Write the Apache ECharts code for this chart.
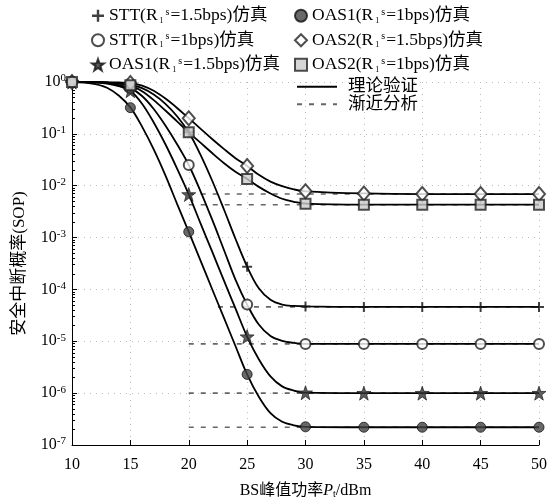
<!DOCTYPE html>
<html>
<head>
<meta charset="utf-8">
<script src="https://cdn.jsdelivr.net/npm/echarts@6/dist/echarts.min.js"></script>
<style>
html,body{margin:0;padding:0;background:#fff;}
#chart{width:550px;height:504px;}
</style>
</head>
<body>
<div id="chart"></div>
<script>
// ---- data ----
const xSim = [10, 15, 20, 25, 30, 35, 40, 45, 50];
const simSTT15 = [1, 0.89, 0.107, 2.75e-4, 4.7e-5, 4.6e-5, 4.6e-5, 4.6e-5, 4.6e-5];
const simSTT1 = [1, 0.76, 0.025, 5.1e-5, 8.9e-6, 8.9e-6, 8.9e-6, 8.9e-6, 8.9e-6];
const simOAS115 = [1, 0.68, 6.8e-3, 1.23e-5, 1.02e-6, 1.0e-6, 1.0e-6, 1.0e-6, 1.0e-6];
const simOAS11 = [1, 0.32, 1.29e-3, 2.3e-6, 2.24e-7, 2.2e-7, 2.2e-7, 2.2e-7, 2.2e-7];
const simOAS215 = [1, 0.955, 0.2, 0.024, 7.8e-3, 7.1e-3, 6.9e-3, 6.9e-3, 6.9e-3];
const simOAS21 = [1, 0.87, 0.107, 0.0135, 4.5e-3, 4.3e-3, 4.3e-3, 4.3e-3, 4.3e-3];

const xTheory = [10,11,12,13,14,15,16,17,18,19,20,21,22,23,24,25,26,27,28,29,30,35,40,45,50];
const thSTT15 = [1,1,1,0.977,0.944,0.89,0.76,0.575,0.38,0.219,0.107,0.0398,0.0126,3.55e-3,9.5e-4,2.75e-4,1.05e-4,6.3e-5,5.1e-5,4.8e-5,4.7e-5,4.6e-5,4.6e-5,4.6e-5,4.6e-5];
const thSTT1 = [1,1,0.99,0.955,0.87,0.76,0.537,0.302,0.145,0.063,0.0251,7.9e-3,2.24e-3,5.9e-4,1.55e-4,5.1e-5,2.1e-5,1.26e-5,1.02e-5,9.3e-6,8.9e-6,8.9e-6,8.9e-6,8.9e-6,8.9e-6];
const thOAS115 = [1,0.995,0.977,0.933,0.832,0.676,0.38,0.166,0.063,0.0214,6.8e-3,1.9e-3,5.4e-4,1.51e-4,4.3e-5,1.23e-5,4.5e-6,2.1e-6,1.35e-6,1.12e-6,1.02e-6,1.0e-6,1.0e-6,1.0e-6,1.0e-6];
const thOAS11 = [1,0.977,0.912,0.776,0.55,0.324,0.138,0.0501,0.0158,4.47e-3,1.29e-3,3.63e-4,1.02e-4,2.88e-5,8.1e-6,2.29e-6,8.5e-7,4.1e-7,2.8e-7,2.4e-7,2.24e-7,2.2e-7,2.2e-7,2.2e-7,2.2e-7];
const thOAS215 = [1,1,1,0.99,0.977,0.955,0.851,0.676,0.479,0.316,0.2,0.126,0.0794,0.0513,0.0339,0.024,0.0162,0.012,9.8e-3,8.5e-3,7.8e-3,7.1e-3,6.9e-3,6.9e-3,6.9e-3];
const thOAS21 = [1,1,0.995,0.977,0.933,0.871,0.661,0.447,0.282,0.174,0.107,0.0676,0.0427,0.0275,0.0186,0.0135,9.5e-3,7.1e-3,5.6e-3,4.9e-3,4.5e-3,4.3e-3,4.3e-3,4.3e-3,4.3e-3];

const asymStart = [22.5, 20, 20, 20, 20, 20];
const asymEnd = [50, 50, 50, 50, 50, 50];
const asymLevel = [4.6e-5, 8.9e-6, 1.0e-6, 2.2e-7, 6.9e-3, 4.3e-3];

const simNames = ['STT(R1s=1.5bps)仿真', 'STT(R1s=1bps)仿真', 'OAS1(R1s=1.5bps)仿真',
                  'OAS1(R1s=1bps)仿真', 'OAS2(R1s=1.5bps)仿真', 'OAS2(R1s=1bps)仿真'];
const theoryName = '理论验证';
const asymName = '渐近分析';
const yMinor = [];
for (let e = -7; e < 0; e++) for (let m = 2; m <= 9; m++) yMinor.push(m * Math.pow(10, e));

// ---- styles ----
const SERIF = '"Liberation Serif","Times New Roman","Noto Sans CJK SC",serif';
const plusPath = 'path://M4,0H6V4H10V6H6V10H4V6H0V4H4Z';
const starPath = 'path://M10,0L12.35,6.76L19.51,6.91L13.8,11.24L15.88,18.09L10,14L4.12,18.09L6.2,11.24L0.49,6.91L7.65,6.76Z';
const markerStyles = [
  {symbol: plusPath, symbolSize: 10, itemStyle: {color: '#111', borderWidth: 0}},
  {symbol: 'circle', symbolSize: 10, itemStyle: {color: '#fff', borderColor: '#222', borderWidth: 2}},
  {symbol: starPath, symbolSize: 14, itemStyle: {color: '#333', borderColor: '#111', borderWidth: 0.8}},
  {symbol: 'circle', symbolSize: 10, itemStyle: {color: '#444', borderColor: '#111', borderWidth: 1}},
  {symbol: 'diamond', symbolSize: [12, 14], itemStyle: {color: '#fff', borderColor: '#222', borderWidth: 2}},
  {symbol: 'rect', symbolSize: 10, itemStyle: {color: '#ccc', borderColor: '#222', borderWidth: 2}}
];
const simData = [simSTT15, simSTT1, simOAS115, simOAS11, simOAS215, simOAS21];
const thData = [thSTT15, thSTT1, thOAS115, thOAS11, thOAS215, thOAS21];

const series = [];
for (let i = 0; i < 6; i++) {
  series.push({
    name: asymName, type: 'line', symbol: 'none', z: 2,
    itemStyle: {color: '#666'},
    lineStyle: {color: '#666', width: 1.6, type: [5, 7]},
    data: [[asymStart[i], asymLevel[i]], [asymEnd[i], asymLevel[i]]]
  });
}
for (let i = 0; i < 6; i++) {
  series.push({
    name: theoryName, type: 'line', symbol: 'none', smooth: 0.35, z: 3,
    itemStyle: {color: '#000'},
    lineStyle: {color: '#000', width: 1.8},
    data: xTheory.map((x, k) => [x, thData[i][k]])
  });
}
for (let i = 0; i < 6; i++) {
  series.push(Object.assign({
    name: simNames[i], type: 'scatter', z: 5,
    data: xSim.map((x, k) => [x, simData[i][k]])
  }, markerStyles[i]));
}

function fmtName(n) {
  return n.replace('R1s', 'R{sub|1}{sup|s}');
}
const legendRich = {
  sub: {fontFamily: SERIF, fontSize: 8, color: '#000', verticalAlign: 'bottom', padding: [6, 1, 0, 2]},
  sup: {fontFamily: SERIF, fontSize: 10, color: '#000', verticalAlign: 'top', padding: [0, 1, 6, 1]}
};
const legendText = {fontFamily: SERIF, fontSize: 17.5, color: '#000', rich: legendRich};

const option = {
  animation: false,
  backgroundColor: '#fff',
  grid: {left: 72, right: 10, top: 82, bottom: 55, containLabel: false},
  legend: [
    {data: simNames.slice(0, 3), orient: 'vertical', left: 91, top: 7, itemGap: 7,
     itemWidth: 12, itemHeight: 12, selectedMode: false, formatter: fmtName, textStyle: legendText, padding: 0},
    {data: simNames.slice(3, 6), orient: 'vertical', left: 294, top: 7, itemGap: 7,
     itemWidth: 12, itemHeight: 12, selectedMode: false, formatter: fmtName, textStyle: legendText, padding: 0},
    {data: [theoryName, asymName], orient: 'vertical', left: 296, top: 78, itemGap: 0,
     itemWidth: 40, itemHeight: 10, selectedMode: false,
     itemStyle: {color: 'rgba(0,0,0,0)', borderWidth: 0, opacity: 0},
     textStyle: {fontFamily: SERIF, fontSize: 17.5, color: '#000', padding: [0, 0, 0, 6]}, padding: 0}
  ],
  xAxis: {
    type: 'value', min: 10, max: 50, interval: 5,
    name: 'BS峰值功率{i|P}{sub|t}/dBm', nameLocation: 'middle', nameGap: 38,
    nameTextStyle: {fontFamily: SERIF, fontSize: 16, color: '#000',
      rich: {i: {fontFamily: SERIF, fontStyle: 'italic', fontSize: 16, color: '#000'},
             sub: {fontFamily: SERIF, fontSize: 10, color: '#000', verticalAlign: 'bottom', padding: [6, 0, 0, 0]}}},
    axisLine: {show: true, lineStyle: {color: '#000', width: 1}},
    axisTick: {inside: true, length: 5, lineStyle: {color: '#000'}},
    axisLabel: {fontFamily: SERIF, fontSize: 16, color: '#000', margin: 12},
    splitLine: {show: true, lineStyle: {color: '#bbb', type: [1, 5], width: 1}}
  },
  yAxis: [
    {
      type: 'log', logBase: 10, min: 1e-7, max: 1,
      name: '安全中断概率(SOP)', nameLocation: 'middle', nameGap: 44, nameRotate: 90,
      nameTextStyle: {fontFamily: SERIF, fontSize: 17, color: '#000'},
      axisLine: {show: true, lineStyle: {color: '#000', width: 1}},
      axisTick: {inside: true, length: 5, lineStyle: {color: '#000'}},
      axisLabel: {
        fontFamily: SERIF, fontSize: 16, color: '#000', margin: 6,
        formatter: v => '10{sup|' + Math.round(Math.log10(v)) + '}',
        rich: {sup: {fontFamily: SERIF, fontSize: 11, color: '#000', verticalAlign: 'top', padding: [0, 0, 7, 0]}}
      },
      splitLine: {show: true, lineStyle: {color: '#bbb', type: [1, 5], width: 1}}
    },
    {
      type: 'log', logBase: 10, min: 1e-7, max: 1, position: 'left',
      axisLine: {show: false},
      axisLabel: {show: false},
      splitLine: {show: false},
      axisTick: {show: true, inside: true, length: 3, customValues: yMinor, lineStyle: {color: '#000'}}
    }
  ],
  series: series
};
const chart = echarts.init(document.getElementById('chart'), null, {renderer: 'canvas'});
chart.setOption(option);
</script>
</body>
</html>
